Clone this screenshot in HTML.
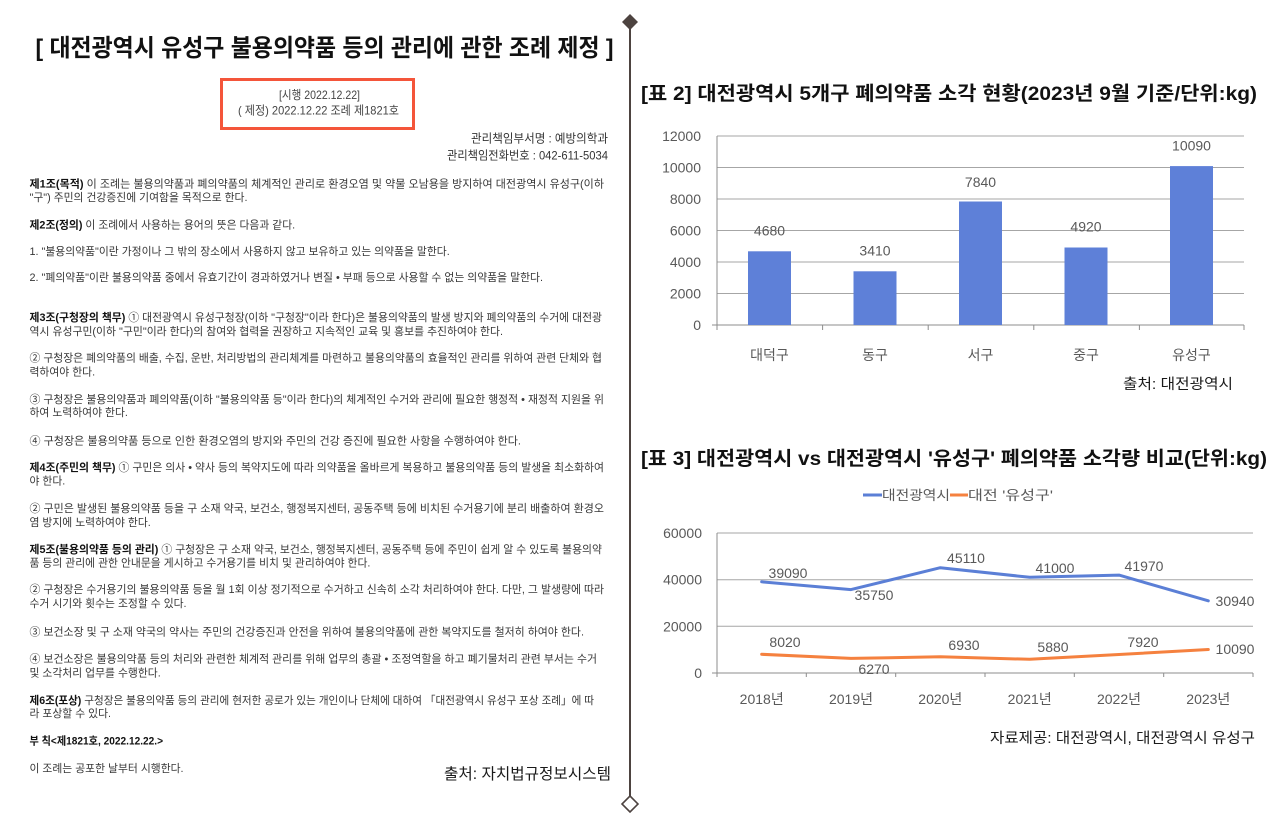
<!DOCTYPE html>
<html>
<head>
<meta charset="utf-8">
<style>
html,body{margin:0;padding:0;background:#fff;}
body{width:1280px;height:823px;overflow:hidden;}
svg{display:block;font-family:"Liberation Sans","Noto Sans CJK KR",sans-serif;}
.b{font-size:10.8px;fill:#363636;}
.h{font-weight:bold;fill:#111;}
.g{fill:#595959;font-size:14px;}
</style>
</head>
<body>
<svg width="1280" height="823" viewBox="0 0 1280 823" xmlns="http://www.w3.org/2000/svg">
<rect x="0" y="0" width="1280" height="823" fill="#fff"/>

<!-- ===== LEFT DOCUMENT ===== -->
<text x="35.5" y="56" font-size="24" font-weight="bold" fill="#111" textLength="578" lengthAdjust="spacingAndGlyphs">[ 대전광역시 유성구 불용의약품 등의 관리에 관한 조례 제정 ]</text>

<rect x="221.5" y="79.5" width="192" height="49" fill="none" stroke="#f4553a" stroke-width="3"/>
<text x="279" y="99" font-size="12" fill="#444" textLength="81" lengthAdjust="spacingAndGlyphs">[시행 2022.12.22]</text>
<text x="238" y="114.5" font-size="12" fill="#444" textLength="161" lengthAdjust="spacingAndGlyphs">( 제정) 2022.12.22 조례 제1821호</text>

<text x="608" y="142.5" font-size="12" fill="#333" text-anchor="end" textLength="137" lengthAdjust="spacingAndGlyphs">관리책임부서명 : 예방의학과</text>
<text x="608" y="159.5" font-size="12" fill="#333" text-anchor="end" textLength="161" lengthAdjust="spacingAndGlyphs">관리책임전화번호 : 042-611-5034</text>

<text class="b" x="29.5" y="187.5" textLength="574.5" lengthAdjust="spacingAndGlyphs"><tspan class="h">제1조(목적)</tspan> 이 조례는 불용의약품과 폐의약품의 체계적인 관리로 환경오염 및 약물 오남용을 방지하여 대전광역시 유성구(이하</text>
<text class="b" x="29.5" y="201">"구") 주민의 건강증진에 기여함을 목적으로 한다.</text>

<text class="b" x="29.5" y="228.5"><tspan class="h">제2조(정의)</tspan> 이 조례에서 사용하는 용어의 뜻은 다음과 같다.</text>
<text class="b" x="29.5" y="255">1. "불용의약품"이란 가정이나 그 밖의 장소에서 사용하지 않고 보유하고 있는 의약품을 말한다.</text>
<text class="b" x="29.5" y="281" textLength="513.5" lengthAdjust="spacingAndGlyphs">2. "폐의약품"이란 불용의약품 중에서 유효기간이 경과하였거나 변질 • 부패 등으로 사용할 수 없는 의약품을 말한다.</text>

<text class="b" x="29.5" y="321" textLength="572.5" lengthAdjust="spacingAndGlyphs"><tspan class="h">제3조(구청장의 책무)</tspan> ① 대전광역시 유성구청장(이하 "구청장"이라 한다)은 불용의약품의 발생 방지와 폐의약품의 수거에 대전광</text>
<text class="b" x="29.5" y="335" textLength="473.5" lengthAdjust="spacingAndGlyphs">역시 유성구민(이하 "구민"이라 한다)의 참여와 협력을 권장하고 지속적인 교육 및 홍보를 추진하여야 한다.</text>
<text class="b" x="29.5" y="361.5" textLength="572.5" lengthAdjust="spacingAndGlyphs">② 구청장은 폐의약품의 배출, 수집, 운반, 처리방법의 관리체계를 마련하고 불용의약품의 효율적인 관리를 위하여 관련 단체와 협</text>
<text class="b" x="29.5" y="375.5">력하여야 한다.</text>
<text class="b" x="29.5" y="403" textLength="574.5" lengthAdjust="spacingAndGlyphs">③ 구청장은 불용의약품과 폐의약품(이하 "불용의약품 등"이라 한다)의 체계적인 수거와 관리에 필요한 행정적 • 재정적 지원을 위</text>
<text class="b" x="29.5" y="416">하여 노력하여야 한다.</text>
<text class="b" x="29.5" y="444.5" textLength="491.5" lengthAdjust="spacingAndGlyphs">④ 구청장은 불용의약품 등으로 인한 환경오염의 방지와 주민의 건강 증진에 필요한 사항을 수행하여야 한다.</text>

<text class="b" x="29.5" y="471" textLength="574.5" lengthAdjust="spacingAndGlyphs"><tspan class="h">제4조(주민의 책무)</tspan> ① 구민은 의사 • 약사 등의 복약지도에 따라 의약품을 올바르게 복용하고 불용의약품 등의 발생을 최소화하여</text>
<text class="b" x="29.5" y="484.5">야 한다.</text>
<text class="b" x="29.5" y="512" textLength="574.5" lengthAdjust="spacingAndGlyphs">② 구민은 발생된 불용의약품 등을 구 소재 약국, 보건소, 행정복지센터, 공동주택 등에 비치된 수거용기에 분리 배출하여 환경오</text>
<text class="b" x="29.5" y="526">염 방지에 노력하여야 한다.</text>

<text class="b" x="29.5" y="553" textLength="572.5" lengthAdjust="spacingAndGlyphs"><tspan class="h">제5조(불용의약품 등의 관리)</tspan> ① 구청장은 구 소재 약국, 보건소, 행정복지센터, 공동주택 등에 주민이 쉽게 알 수 있도록 불용의약</text>
<text class="b" x="29.5" y="566.5">품 등의 관리에 관한 안내문을 게시하고 수거용기를 비치 및 관리하여야 한다.</text>
<text class="b" x="29.5" y="593" textLength="574.5" lengthAdjust="spacingAndGlyphs">② 구청장은 수거용기의 불용의약품 등을 월 1회 이상 정기적으로 수거하고 신속히 소각 처리하여야 한다. 다만, 그 발생량에 따라</text>
<text class="b" x="29.5" y="607">수거 시기와 횟수는 조정할 수 있다.</text>
<text class="b" x="29.5" y="635.5" textLength="554.5" lengthAdjust="spacingAndGlyphs">③ 보건소장 및 구 소재 약국의 약사는 주민의 건강증진과 안전을 위하여 불용의약품에 관한 복약지도를 철저히 하여야 한다.</text>
<text class="b" x="29.5" y="662.5" textLength="567.5" lengthAdjust="spacingAndGlyphs">④ 보건소장은 불용의약품 등의 처리와 관련한 체계적 관리를 위해 업무의 총괄 • 조정역할을 하고 폐기물처리 관련 부서는 수거</text>
<text class="b" x="29.5" y="676.5">및 소각처리 업무를 수행한다.</text>

<text class="b" x="29.5" y="704" textLength="564.5" lengthAdjust="spacingAndGlyphs"><tspan class="h">제6조(포상)</tspan> 구청장은 불용의약품 등의 관리에 현저한 공로가 있는 개인이나 단체에 대하여 「대전광역시 유성구 포상 조례」에 따</text>
<text class="b" x="29.5" y="717">라 포상할 수 있다.</text>

<text class="b h" x="29.5" y="744.5" textLength="133.5" lengthAdjust="spacingAndGlyphs">부 칙&lt;제1821호, 2022.12.22.&gt;</text>
<text class="b" x="29.5" y="772">이 조례는 공포한 날부터 시행한다.</text>

<text x="444" y="779" font-size="15.5" fill="#1a1a1a" textLength="167" lengthAdjust="spacingAndGlyphs">출처: 자치법규정보시스템</text>

<!-- ===== DIVIDER ===== -->
<line x1="630" y1="22" x2="630" y2="796" stroke="#4d4340" stroke-width="2"/>
<polygon points="630,14 638,22 630,30 622,22" fill="#4d4340"/>
<polygon points="630,796 638,804 630,812 622,804" fill="#fff" stroke="#4d4340" stroke-width="1.6"/>

<!-- ===== BAR CHART ===== -->
<text x="641" y="100" font-size="19.5" font-weight="bold" fill="#111" textLength="616" lengthAdjust="spacingAndGlyphs">[표 2] 대전광역시 5개구 폐의약품 소각 현황(2023년 9월 기준/단위:kg)</text>

<g stroke="#a6a6a6" stroke-width="1">
<line x1="717" y1="136" x2="1244" y2="136"/>
<line x1="717" y1="167.5" x2="1244" y2="167.5"/>
<line x1="717" y1="199" x2="1244" y2="199"/>
<line x1="717" y1="230.5" x2="1244" y2="230.5"/>
<line x1="717" y1="262" x2="1244" y2="262"/>
<line x1="717" y1="293.5" x2="1244" y2="293.5"/>
</g>
<g stroke="#8c8c8c" stroke-width="1">
<line x1="712" y1="325" x2="1244" y2="325"/>
<line x1="717" y1="136" x2="717" y2="330"/>
<line x1="822.6" y1="325" x2="822.6" y2="330"/>
<line x1="928.2" y1="325" x2="928.2" y2="330"/>
<line x1="1033.8" y1="325" x2="1033.8" y2="330"/>
<line x1="1139.4" y1="325" x2="1139.4" y2="330"/>
<line x1="1244" y1="325" x2="1244" y2="330"/>
</g>
<g class="g" text-anchor="end">
<text x="701" y="141">12000</text>
<text x="701" y="172.5">10000</text>
<text x="701" y="204">8000</text>
<text x="701" y="235.5">6000</text>
<text x="701" y="267">4000</text>
<text x="701" y="298.5">2000</text>
<text x="701" y="330">0</text>
</g>
<g fill="#5e80d8">
<rect x="748" y="251.3" width="43" height="73.7"/>
<rect x="853.5" y="271.3" width="43" height="53.7"/>
<rect x="959" y="201.5" width="43" height="123.5"/>
<rect x="1064.5" y="247.5" width="43" height="77.5"/>
<rect x="1170" y="166.1" width="43" height="158.9"/>
</g>
<g class="g" text-anchor="middle">
<text x="769.5" y="235.5">4680</text>
<text x="875" y="255.5">3410</text>
<text x="980.5" y="187">7840</text>
<text x="1086" y="231.5">4920</text>
<text x="1191.5" y="150.5">10090</text>
<text x="769.5" y="360">대덕구</text>
<text x="875" y="360">동구</text>
<text x="980.5" y="360">서구</text>
<text x="1086" y="360">중구</text>
<text x="1191.5" y="360">유성구</text>
</g>
<text x="1233" y="389" font-size="14.5" fill="#1a1a1a" text-anchor="end" textLength="110" lengthAdjust="spacingAndGlyphs">출처: 대전광역시</text>

<!-- ===== LINE CHART ===== -->
<text x="641" y="465" font-size="19.5" font-weight="bold" fill="#111" textLength="626" lengthAdjust="spacingAndGlyphs">[표 3] 대전광역시 vs 대전광역시 '유성구' 폐의약품 소각량 비교(단위:kg)</text>

<line x1="863" y1="495" x2="882" y2="495" stroke="#5b7fd6" stroke-width="3"/>
<text x="882" y="500" font-size="13.5" fill="#595959" textLength="68" lengthAdjust="spacingAndGlyphs">대전광역시</text>
<line x1="950" y1="495" x2="968" y2="495" stroke="#f5813f" stroke-width="3"/>
<text x="968" y="500" font-size="13.5" fill="#595959" textLength="85" lengthAdjust="spacingAndGlyphs">대전 '유성구'</text>

<g stroke="#a6a6a6" stroke-width="1">
<line x1="717" y1="533" x2="1253" y2="533"/>
<line x1="717" y1="579.7" x2="1253" y2="579.7"/>
<line x1="717" y1="626.3" x2="1253" y2="626.3"/>
</g>
<g stroke="#8c8c8c" stroke-width="1">
<line x1="712" y1="673" x2="1253" y2="673"/>
<line x1="717" y1="533" x2="717" y2="677"/>
<line x1="806.3" y1="673" x2="806.3" y2="677"/>
<line x1="895.7" y1="673" x2="895.7" y2="677"/>
<line x1="985" y1="673" x2="985" y2="677"/>
<line x1="1074.3" y1="673" x2="1074.3" y2="677"/>
<line x1="1163.7" y1="673" x2="1163.7" y2="677"/>
<line x1="1253" y1="673" x2="1253" y2="677"/>
</g>
<g class="g" text-anchor="end">
<text x="702" y="538">60000</text>
<text x="702" y="584.7">40000</text>
<text x="702" y="631.3">20000</text>
<text x="702" y="678">0</text>
</g>
<polyline points="761.7,581.8 851,589.6 940.3,567.7 1029.7,577.3 1119,575.1 1208.3,600.8" fill="none" stroke="#5b7fd6" stroke-width="3" stroke-linejoin="round" stroke-linecap="round"/>
<polyline points="761.7,654.3 851,658.4 940.3,656.8 1029.7,659.3 1119,654.5 1208.3,649.5" fill="none" stroke="#f5813f" stroke-width="3" stroke-linejoin="round" stroke-linecap="round"/>
<g class="g" text-anchor="middle">
<text x="788" y="578">39090</text>
<text x="874" y="600">35750</text>
<text x="966" y="563">45110</text>
<text x="1055" y="573">41000</text>
<text x="1144" y="571">41970</text>
<text x="1235" y="606">30940</text>
<text x="785" y="647">8020</text>
<text x="874" y="674">6270</text>
<text x="964" y="650">6930</text>
<text x="1053" y="652">5880</text>
<text x="1143" y="647">7920</text>
<text x="1235" y="654">10090</text>
<text x="761.7" y="704">2018년</text>
<text x="851" y="704">2019년</text>
<text x="940.3" y="704">2020년</text>
<text x="1029.7" y="704">2021년</text>
<text x="1119" y="704">2022년</text>
<text x="1208.3" y="704">2023년</text>
</g>
<text x="1255" y="743" font-size="14.5" fill="#1a1a1a" text-anchor="end" textLength="265" lengthAdjust="spacingAndGlyphs">자료제공: 대전광역시, 대전광역시 유성구</text>
</svg>
</body>
</html>
